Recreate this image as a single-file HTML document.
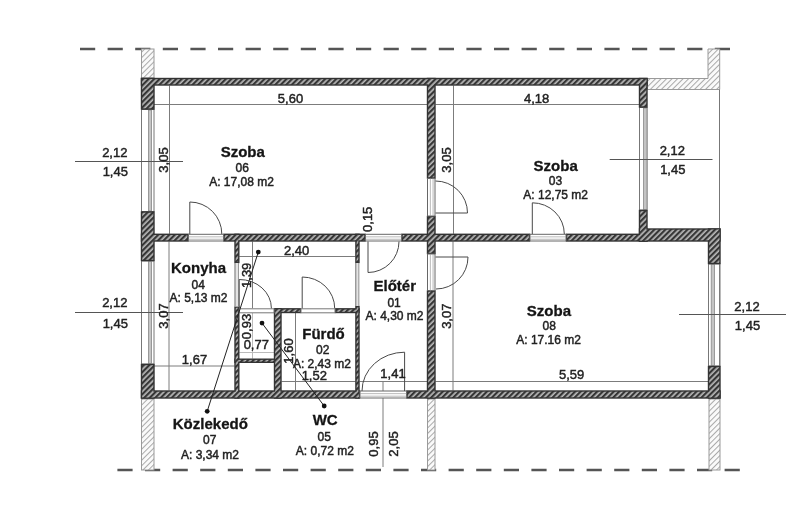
<!DOCTYPE html>
<html><head><meta charset="utf-8">
<style>
html,body{margin:0;padding:0;background:#fff;width:800px;height:506px;overflow:hidden}
svg{display:block;filter:blur(0.3px)}
text{font-family:"Liberation Sans",sans-serif;fill:#222;stroke:#222;stroke-width:0.45px}
.b{font-weight:bold;font-size:15px;fill:#151515;stroke:#151515;stroke-width:0.3px}
.n{font-size:12px}
.d{font-size:13px}
</style></head><body>
<svg width="800" height="506" viewBox="0 0 800 506">
<defs>
<pattern id="h" patternUnits="userSpaceOnUse" width="3.9" height="3.9" patternTransform="rotate(45)">
<rect width="3.9" height="3.9" fill="#b8b8b8"/><rect width="2.2" height="3.9" fill="#363636"/>
</pattern>
<pattern id="hl" patternUnits="userSpaceOnUse" width="3.9" height="3.9" patternTransform="rotate(45)">
<rect width="3.9" height="3.9" fill="#fafafa"/><rect width="1" height="3.9" fill="#a9a9a9"/>
</pattern>
</defs>

<line x1="80" y1="49" x2="731" y2="49" stroke="#555" stroke-width="2.6" stroke-dasharray="15.2 12.4"/>
<line x1="117.4" y1="470" x2="740" y2="470" stroke="#555" stroke-width="2.6" stroke-dasharray="15.2 12.4"/>
<g fill="url(#hl)" stroke="#9a9a9a" stroke-width="1">
<rect x="141.5" y="49" width="12.5" height="29"/>
<path d="M647.5 78.5 H708 V49 H719.7 V89.5 H647.5 Z"/>
<rect x="141.5" y="399" width="12.5" height="71"/>
<rect x="709" y="399" width="11" height="71"/>
<rect x="427.5" y="399" width="7.5" height="71"/>
</g>
<rect x="141.5" y="109.5" width="12.5" height="102.0" fill="#fff" stroke="#777" stroke-width="1"/>
<rect x="148.4" y="110.0" width="3.2" height="101.0" fill="#c4c4c4" stroke="#888" stroke-width="0.8"/>
<rect x="141.5" y="261" width="12.5" height="103" fill="#fff" stroke="#777" stroke-width="1"/>
<rect x="148.4" y="261.5" width="3.2" height="102.0" fill="#c4c4c4" stroke="#888" stroke-width="0.8"/>
<rect x="639.5" y="107.5" width="7.5" height="102.5" fill="#fff" stroke="#777" stroke-width="1"/>
<rect x="643.6" y="108.0" width="3.4" height="101.5" fill="#c4c4c4" stroke="#888" stroke-width="0.8"/>
<rect x="708.5" y="264" width="11.5" height="102" fill="#fff" stroke="#777" stroke-width="1"/>
<rect x="711.2" y="264.5" width="3.2" height="101.0" fill="#c4c4c4" stroke="#888" stroke-width="0.8"/>
<line x1="154" y1="104.5" x2="427" y2="104.5" stroke="#7c7c7c" stroke-width="1"/>
<line x1="435.5" y1="104.5" x2="639" y2="104.5" stroke="#7c7c7c" stroke-width="1"/>
<line x1="169.5" y1="85.5" x2="169.5" y2="233.8" stroke="#7c7c7c" stroke-width="1"/>
<line x1="453.5" y1="85.5" x2="453.5" y2="233.8" stroke="#7c7c7c" stroke-width="1"/>
<line x1="169" y1="241.5" x2="169" y2="390.5" stroke="#7c7c7c" stroke-width="1"/>
<line x1="453" y1="241.5" x2="453" y2="390.5" stroke="#7c7c7c" stroke-width="1"/>
<line x1="435.5" y1="381.5" x2="708" y2="381.5" stroke="#7c7c7c" stroke-width="1"/>
<line x1="154" y1="366" x2="234.5" y2="366" stroke="#7c7c7c" stroke-width="1"/>
<line x1="239.3" y1="256.5" x2="355.4" y2="256.5" stroke="#7c7c7c" stroke-width="1"/>
<line x1="252.5" y1="241.5" x2="252.5" y2="308.3" stroke="#7c7c7c" stroke-width="1"/>
<line x1="295.5" y1="313" x2="295.5" y2="390.5" stroke="#7c7c7c" stroke-width="1"/>
<line x1="281.5" y1="381.5" x2="355.4" y2="381.5" stroke="#7c7c7c" stroke-width="1"/>
<line x1="359.5" y1="381.5" x2="427" y2="381.5" stroke="#7c7c7c" stroke-width="1"/>
<line x1="383" y1="381" x2="383" y2="467" stroke="#7c7c7c" stroke-width="1"/>
<line x1="719.5" y1="89.5" x2="719.5" y2="228.5" stroke="#777" stroke-width="1"/>
<line x1="719.5" y1="264" x2="719.5" y2="366" stroke="#7c7c7c" stroke-width="1"/>
<line x1="252.5" y1="313" x2="252.5" y2="358.7" stroke="#bbb" stroke-width="1"/>
<line x1="239.3" y1="352.5" x2="274" y2="352.5" stroke="#bbb" stroke-width="1"/>
<line x1="75" y1="161.5" x2="183" y2="161.5" stroke="#555" stroke-width="1"/>
<line x1="609.7" y1="159.5" x2="712.5" y2="159.5" stroke="#555" stroke-width="1"/>
<line x1="75" y1="312.5" x2="183" y2="312.5" stroke="#555" stroke-width="1"/>
<line x1="679" y1="314.5" x2="786" y2="314.5" stroke="#555" stroke-width="1"/>
<g fill="#333">
<rect x="140.8" y="77.8" width="506.9" height="7.9"/>
<rect x="140.8" y="77.8" width="13.9" height="31.9"/>
<rect x="140.8" y="211.3" width="13.9" height="49.9"/>
<rect x="140.8" y="363.8" width="13.9" height="34.9"/>
<rect x="140.8" y="233.60000000000002" width="47.9" height="8.1"/>
<rect x="223.3" y="233.60000000000002" width="142.4" height="8.1"/>
<rect x="401.3" y="233.60000000000002" width="128.9" height="8.1"/>
<rect x="565.8" y="233.60000000000002" width="81.9" height="8.1"/>
<rect x="638.8" y="209.8" width="8.9" height="31.9"/>
<rect x="638.8" y="228.3" width="81.9" height="13.4"/>
<rect x="707.8" y="228.3" width="12.9" height="35.9"/>
<rect x="638.8" y="77.8" width="8.9" height="29.9"/>
<rect x="426.8" y="77.8" width="8.9" height="100.9"/>
<rect x="426.8" y="215.8" width="8.9" height="38.4"/>
<rect x="426.8" y="290.3" width="8.9" height="108.4"/>
<rect x="707.8" y="365.8" width="12.9" height="32.9"/>
<rect x="140.8" y="390.3" width="219.4" height="8.4"/>
<rect x="406.3" y="390.3" width="314.4" height="8.4"/>
<rect x="234.3" y="233.60000000000002" width="5.2" height="29.6"/>
<rect x="234.3" y="306.3" width="5.2" height="92.4"/>
<rect x="355.2" y="233.60000000000002" width="4.5" height="29.6"/>
<rect x="355.2" y="305.8" width="4.5" height="92.9"/>
<rect x="273.8" y="308.1" width="7.9" height="90.6"/>
<rect x="273.8" y="308.1" width="27.4" height="5.1"/>
<rect x="334.8" y="308.1" width="24.9" height="5.1"/>
<rect x="234.3" y="358.5" width="40.9" height="4.5"/>
</g><g fill="url(#h)">
<rect x="142.2" y="79.2" width="504.1" height="5.1"/>
<rect x="142.2" y="79.2" width="11.1" height="29.1"/>
<rect x="142.2" y="212.7" width="11.1" height="47.1"/>
<rect x="142.2" y="365.2" width="11.1" height="32.1"/>
<rect x="142.2" y="235.0" width="45.1" height="5.3"/>
<rect x="224.7" y="235.0" width="139.6" height="5.3"/>
<rect x="402.7" y="235.0" width="126.1" height="5.3"/>
<rect x="567.2" y="235.0" width="79.1" height="5.3"/>
<rect x="640.2" y="211.2" width="6.1" height="29.1"/>
<rect x="640.2" y="229.7" width="79.1" height="10.6"/>
<rect x="709.2" y="229.7" width="10.1" height="33.1"/>
<rect x="640.2" y="79.2" width="6.1" height="27.1"/>
<rect x="428.2" y="79.2" width="6.1" height="98.1"/>
<rect x="428.2" y="217.2" width="6.1" height="35.6"/>
<rect x="428.2" y="291.7" width="6.1" height="105.6"/>
<rect x="709.2" y="367.2" width="10.1" height="30.1"/>
<rect x="142.2" y="391.7" width="216.6" height="5.6"/>
<rect x="407.7" y="391.7" width="311.6" height="5.6"/>
<rect x="235.7" y="235.0" width="2.4" height="26.8"/>
<rect x="235.7" y="307.7" width="2.4" height="89.6"/>
<rect x="356.59999999999997" y="235.0" width="1.7" height="26.8"/>
<rect x="356.59999999999997" y="307.2" width="1.7" height="90.1"/>
<rect x="275.2" y="309.5" width="5.1" height="87.8"/>
<rect x="275.2" y="309.5" width="24.6" height="2.3"/>
<rect x="336.2" y="309.5" width="22.1" height="2.3"/>
<rect x="235.7" y="359.9" width="38.1" height="1.7"/>
</g>
<rect x="234.5" y="263" width="4.5" height="43.5" fill="#e4e4e4"/>
<rect x="355.4" y="263" width="4.0" height="43" fill="#e4e4e4"/>
<line x1="235" y1="263" x2="235" y2="306.5" stroke="#777" stroke-width="1"/>
<line x1="238.5" y1="263" x2="238.5" y2="306.5" stroke="#999" stroke-width="1"/>
<line x1="355.8" y1="263" x2="355.8" y2="306" stroke="#777" stroke-width="1"/>
<line x1="358.8" y1="263" x2="358.8" y2="306" stroke="#999" stroke-width="1"/>
<rect x="188.5" y="234.3" width="35.0" height="6.7" fill="#fff" stroke="#666" stroke-width="1"/>
<line x1="188.5" y1="236.846" x2="223.5" y2="236.846" stroke="#9a9a9a" stroke-width="0.7"/>
<line x1="188.5" y1="239.258" x2="223.5" y2="239.258" stroke="#9a9a9a" stroke-width="0.7"/>
<rect x="365.5" y="234.3" width="36.0" height="6.7" fill="#fff" stroke="#666" stroke-width="1"/>
<line x1="365.5" y1="236.846" x2="401.5" y2="236.846" stroke="#9a9a9a" stroke-width="0.7"/>
<line x1="365.5" y1="239.258" x2="401.5" y2="239.258" stroke="#9a9a9a" stroke-width="0.7"/>
<rect x="530" y="234.3" width="36" height="6.7" fill="#fff" stroke="#666" stroke-width="1"/>
<line x1="530" y1="236.846" x2="566" y2="236.846" stroke="#9a9a9a" stroke-width="0.7"/>
<line x1="530" y1="239.258" x2="566" y2="239.258" stroke="#9a9a9a" stroke-width="0.7"/>
<rect x="360" y="391" width="46.5" height="7" fill="#fff" stroke="#666" stroke-width="1"/>
<line x1="360" y1="393.66" x2="406.5" y2="393.66" stroke="#9a9a9a" stroke-width="0.7"/>
<line x1="360" y1="396.18" x2="406.5" y2="396.18" stroke="#9a9a9a" stroke-width="0.7"/>
<rect x="239.3" y="308.8" width="34.7" height="4.0" fill="#fff" stroke="#777" stroke-width="1"/>
<rect x="301" y="308.8" width="34" height="4.0" fill="#fff" stroke="#777" stroke-width="1"/>
<rect x="427.5" y="178.5" width="7.5" height="37.5" fill="#fff" stroke="#666" stroke-width="1"/>
<line x1="430.35" y1="178.5" x2="430.35" y2="216" stroke="#9a9a9a" stroke-width="0.7"/>
<line x1="433.05" y1="178.5" x2="433.05" y2="216" stroke="#9a9a9a" stroke-width="0.7"/>
<rect x="427.5" y="254" width="7.5" height="36.5" fill="#fff" stroke="#666" stroke-width="1"/>
<line x1="430.35" y1="254" x2="430.35" y2="290.5" stroke="#9a9a9a" stroke-width="0.7"/>
<line x1="433.05" y1="254" x2="433.05" y2="290.5" stroke="#9a9a9a" stroke-width="0.7"/>
<g fill="none" stroke="#484848" stroke-width="1">
<path d="M189.8 234 V202 A32 32 0 0 1 221.8 234"/>
<path d="M368 241.5 V272.5 A31 31 0 0 0 399 241.5"/>
<path d="M435.5 213 H467.5 A32 32 0 0 0 435.5 181"/>
<path d="M532.3 234 V202.8 A32 31.2 0 0 1 564.3 234"/>
<path d="M435.5 257 H468 A32 32 0 0 1 436 289"/>
<path d="M404.6 391 V352.2 A42.6 38.8 0 0 0 362 391"/>
<path d="M239.2 308.3 V279.5 A32 28.8 0 0 1 271.4 308.3"/>
<path d="M302.2 308.3 V277 A32.5 31.3 0 0 1 334.7 308.3"/>
</g>
<g stroke="#222" stroke-width="1" fill="none">
<line x1="258.3" y1="252.1" x2="207.2" y2="411.3"/>
<line x1="262" y1="323.1" x2="324.2" y2="406"/>
</g><g fill="#111">
<circle cx="258.3" cy="252.1" r="2.4"/><circle cx="207.2" cy="411.3" r="2.4"/>
<circle cx="262" cy="323.1" r="2.4"/><circle cx="324.2" cy="406" r="2.4"/>
</g>
<text x="242.8" y="157" class="b" text-anchor="middle">Szoba</text>
<text x="242.3" y="172" class="n" text-anchor="middle">06</text>
<text x="241.5" y="186" class="n" text-anchor="middle">A: 17,08 m2</text>
<text x="555.7" y="170.6" class="b" text-anchor="middle">Szoba</text>
<text x="555.5" y="184.5" class="n" text-anchor="middle">03</text>
<text x="555.7" y="198.7" class="n" text-anchor="middle">A: 12,75 m2</text>
<text x="548.9" y="315.7" class="b" text-anchor="middle">Szoba</text>
<text x="549.2" y="329.5" class="n" text-anchor="middle">08</text>
<text x="548.6" y="343.8" class="n" text-anchor="middle">A: 17.16 m2</text>
<text x="198.5" y="273.1" class="b" text-anchor="middle">Konyha</text>
<text x="198.2" y="288.5" class="n" text-anchor="middle">04</text>
<text x="198.5" y="301.5" class="n" text-anchor="middle">A: 5,13 m2</text>
<text x="394.8" y="291.3" class="b" text-anchor="middle">Előtér</text>
<text x="394.1" y="306.5" class="n" text-anchor="middle">01</text>
<text x="394.5" y="320.4" class="n" text-anchor="middle">A: 4,30 m2</text>
<text x="323.5" y="338.5" class="b" text-anchor="middle">Fürdő</text>
<text x="322.7" y="354.3" class="n" text-anchor="middle">02</text>
<text x="321.9" y="367.7" class="n" text-anchor="middle">A: 2,43 m2</text>
<text x="210.3" y="428.9" class="b" text-anchor="middle">Közlekedő</text>
<text x="209.7" y="444.3" class="n" text-anchor="middle">07</text>
<text x="210" y="458.5" class="n" text-anchor="middle">A: 3,34 m2</text>
<text x="325.2" y="424.8" class="b" text-anchor="middle">WC</text>
<text x="324.3" y="440.7" class="n" text-anchor="middle">05</text>
<text x="324.8" y="454.5" class="n" text-anchor="middle">A: 0,72 m2</text>
<text x="290.5" y="103" class="d" text-anchor="middle">5,60</text>
<text x="536.6" y="103" class="d" text-anchor="middle">4,18</text>
<text x="114.8" y="156.7" class="d" text-anchor="middle">2,12</text>
<text x="115.3" y="175.8" class="d" text-anchor="middle">1,45</text>
<text x="672.3" y="155.2" class="d" text-anchor="middle">2,12</text>
<text x="672.8" y="174.3" class="d" text-anchor="middle">1,45</text>
<text x="114.8" y="307" class="d" text-anchor="middle">2,12</text>
<text x="115.3" y="328" class="d" text-anchor="middle">1,45</text>
<text x="747" y="311" class="d" text-anchor="middle">2,12</text>
<text x="747.5" y="329.7" class="d" text-anchor="middle">1,45</text>
<text x="296.7" y="254.8" class="d" text-anchor="middle">2,40</text>
<text x="571.6" y="378.9" class="d" text-anchor="middle">5,59</text>
<text x="314.3" y="379.6" class="d" text-anchor="middle">1,52</text>
<text x="194.5" y="364.3" class="d" text-anchor="middle">1,67</text>
<text x="393" y="378" class="d" text-anchor="middle">1,41</text>
<text x="256.3" y="349.2" class="d" text-anchor="middle">0,77</text>
<text x="0" y="0" class="d" text-anchor="middle" transform="translate(168 160) rotate(-90)">3,05</text>
<text x="0" y="0" class="d" text-anchor="middle" transform="translate(450.5 160) rotate(-90)">3,05</text>
<text x="0" y="0" class="d" text-anchor="middle" transform="translate(168 316) rotate(-90)">3,07</text>
<text x="0" y="0" class="d" text-anchor="middle" transform="translate(450.5 316.2) rotate(-90)">3,07</text>
<text x="0" y="0" class="d" text-anchor="middle" transform="translate(372.3 219.3) rotate(-90)">0,15</text>
<text x="0" y="0" class="d" text-anchor="middle" transform="translate(250.6 275.3) rotate(-90)">1,39</text>
<text x="0" y="0" class="d" text-anchor="middle" transform="translate(250.5 326.5) rotate(-90)">0,93</text>
<text x="0" y="0" class="d" text-anchor="middle" transform="translate(293.3 351) rotate(-90)">1,60</text>
<text x="0" y="0" class="d" text-anchor="middle" transform="translate(378.3 444) rotate(-90)">0,95</text>
<text x="0" y="0" class="d" text-anchor="middle" transform="translate(397.5 444) rotate(-90)">2,05</text>
</svg>
</body></html>
